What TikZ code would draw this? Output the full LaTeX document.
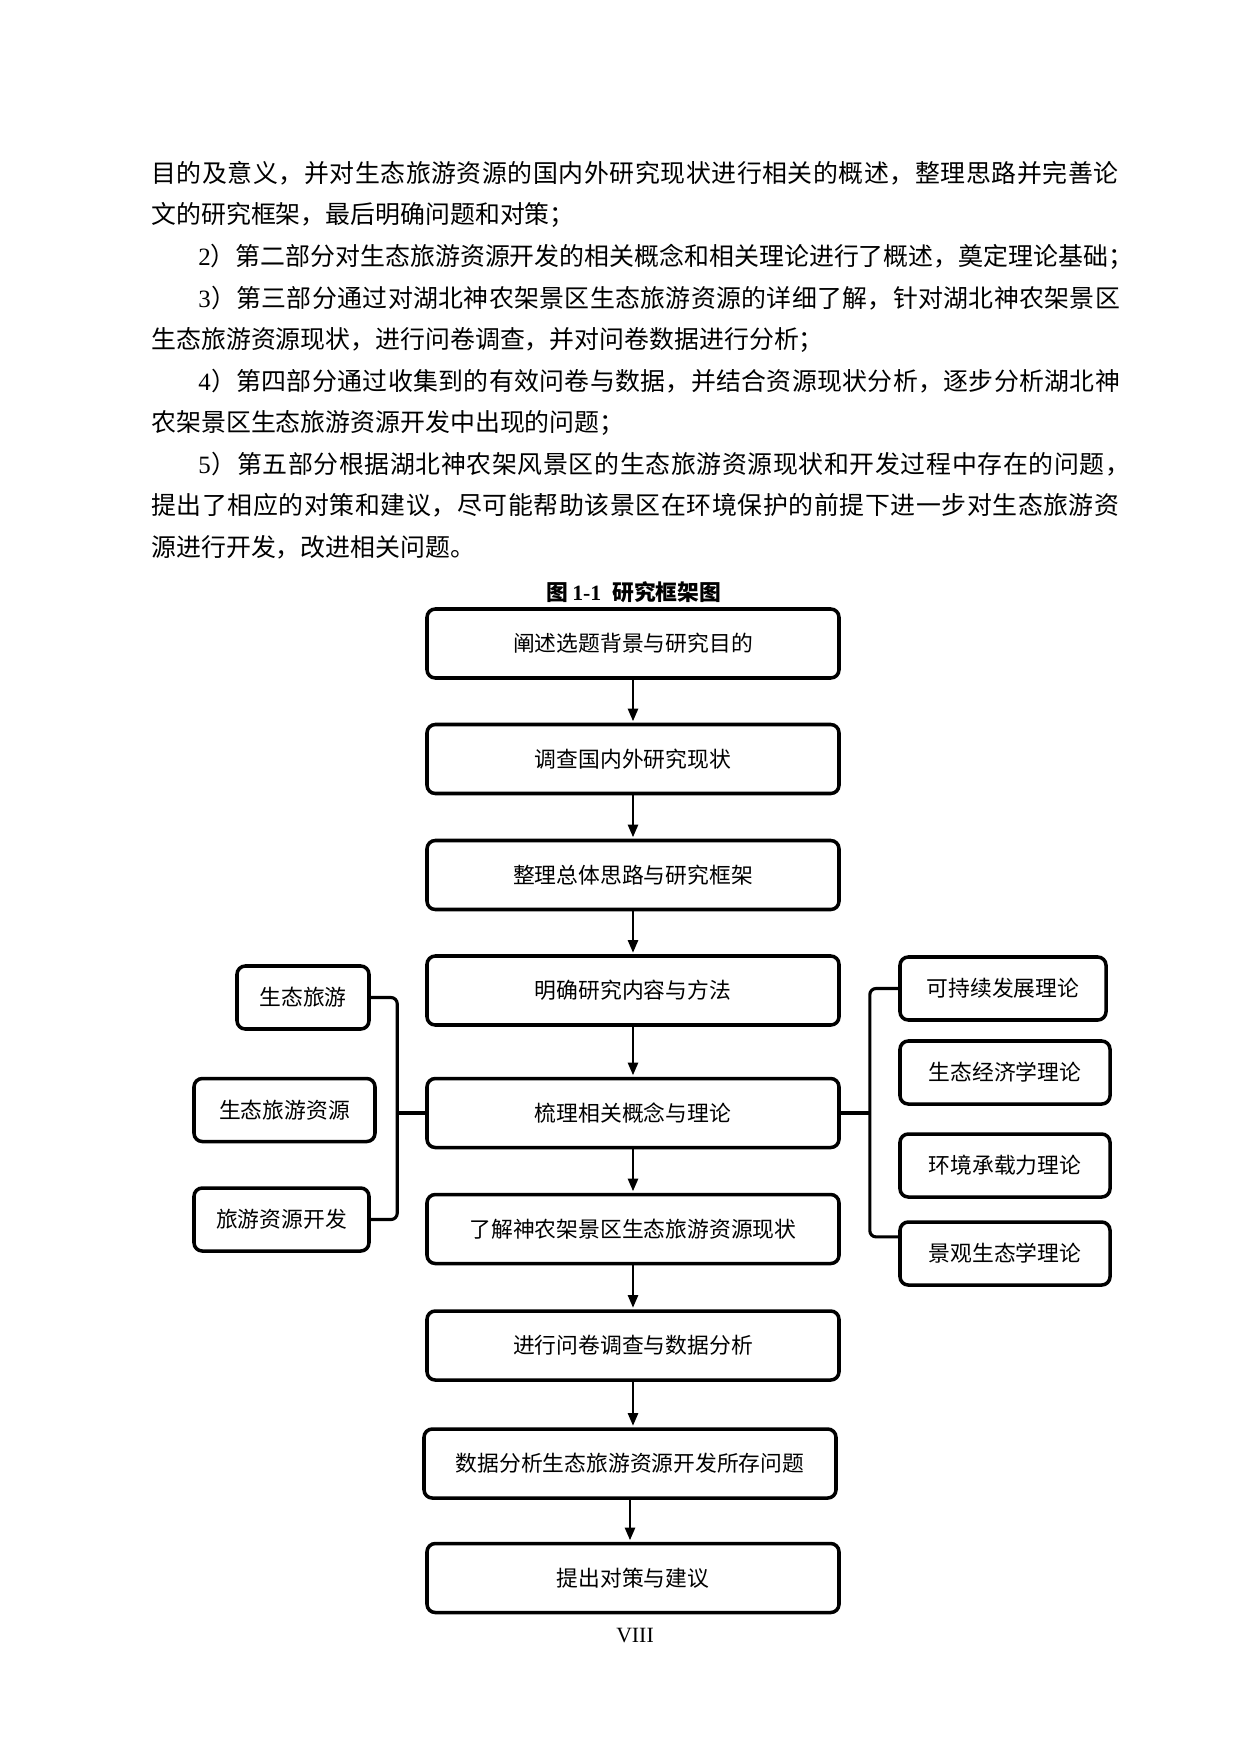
\documentclass[tikz,border=0pt]{standalone}
\usepackage{fontspec}
\setmainfont{Noto Sans CJK SC}
\newfontfamily\latin{Liberation Serif}
\usetikzlibrary{arrows.meta}

\def\px{0.16935mm}

% justified body line: glue between every character
\def\spreadend{\relax}
\def\spreadline#1#2{\hbox to #1{\spreadfirst#2\spreadend}}
\def\spreadfirst#1{\ifx#1\spreadend\else#1\expandafter\spreadnext\fi}
\def\spreadnext#1{\ifx#1\spreadend\else\hskip 0pt plus 1fil minus 1pt\relax#1\expandafter\spreadnext\fi}
\def\ltwo{{\latin 2}}
\def\lthree{{\latin 3}}
\def\lfour{{\latin 4}}
\def\lfive{{\latin 5}}

\tikzset{
   mainbox/.style={draw, line width=1.7pt, rounded corners=4pt,
      minimum width=412*\px, minimum height=69*\px, inner sep=0pt,
      font=\fontsize{10.5}{12}\selectfont},
   sidebox/.style={draw, line width=1.7pt, rounded corners=4pt,
      minimum height=63*\px, inner sep=0pt,
      font=\fontsize{10.5}{12}\selectfont},
   flow/.style={-{Triangle[length=6pt,width=5pt]}, line width=0.7pt, shorten >=0.8pt},
   brace/.style={line width=1.5pt, rounded corners=3pt},
   bodyline/.style={anchor=west, inner sep=0pt, font=\fontsize{12}{14}\selectfont}
}

\begin{document}
\begin{tikzpicture}[x=\px, y=-\px]

      \useasboundingbox (0,0) rectangle (1240,1754);

      % body text
      \node[bodyline] (line1) at (151,173.5) {\spreadline{163.76mm}{目的及意义，并对生态旅游资源的国内外研究现状进行相关的概述，整理思路并完善论}};
      \node[bodyline] (line2) at (151,215) {文的研究框架，最后明确问题和对策；};
      \node[bodyline] (line3) at (198,256.5) {\spreadline{158.3mm}{\ltwo）第二部分对生态旅游资源开发的相关概念和相关理论进行了概述，奠定理论基础；}};
      \node[bodyline] (line4) at (198,298) {\spreadline{156.1mm}{\lthree）第三部分通过对湖北神农架景区生态旅游资源的详细了解，针对湖北神农架景区}};
      \node[bodyline] (line5) at (151,339.5) {生态旅游资源现状，进行问卷调查，并对问卷数据进行分析；};
      \node[bodyline] (line6) at (198,381) {\spreadline{156.1mm}{\lfour）第四部分通过收集到的有效问卷与数据，并结合资源现状分析，逐步分析湖北神}};
      \node[bodyline] (line7) at (151,422.5) {农架景区生态旅游资源开发中出现的问题；};
      \node[bodyline] (line8) at (198,464) {\spreadline{157.8mm}{\lfive）第五部分根据湖北神农架风景区的生态旅游资源现状和开发过程中存在的问题，}};
      \node[bodyline] (line9) at (151,505.5) {\spreadline{163.93mm}{提出了相应的对策和建议，尽可能帮助该景区在环境保护的前提下进一步对生态旅游资}};
      \node[bodyline] (line10) at (151,547) {源进行开发，改进相关问题。};

      \node[font=\bfseries\fontsize{10.5}{12}\selectfont] (caption) at (634,592) {图\,{\latin\bfseries 1-1}\enspace 研究框架图};

      % main steps
      \node[mainbox] (aim) at (633,643.5) {阐述选题背景与研究目的};
      \node[mainbox] (review) at (633,759) {调查国内外研究现状};
      \node[mainbox] (frame) at (633,875) {整理总体思路与研究框架};
      \node[mainbox] (content) at (633,990.5) {明确研究内容与方法};
      \node[mainbox] (theory) at (633,1113) {梳理相关概念与理论};
      \node[mainbox] (status) at (633,1229) {了解神农架景区生态旅游资源现状};
      \node[mainbox] (survey) at (633,1345.5) {进行问卷调查与数据分析};
      \node[mainbox] (problem) at (630,1463.5) {数据分析生态旅游资源开发所存问题};
      \node[mainbox] (advice) at (633,1578) {提出对策与建议};

      \foreach \a/\b in {aim/review, review/frame, frame/content, content/theory,
            theory/status, status/survey, survey/problem, problem/advice}
         \draw[flow] (\a.south) -- (\a.south |- \b.north);

      % concepts
      \node[sidebox, minimum width=132*\px] (eco) at (303,997.5) {生态旅游};
      \node[sidebox, minimum width=181*\px] (ecores) at (284.5,1110) {生态旅游资源};
      \node[sidebox, minimum width=175*\px] (resdev) at (281.5,1219.5) {旅游资源开发};

      % theories
      \node[sidebox, minimum width=206*\px] (sustain) at (1003,988.5) {可持续发展理论};
      \node[sidebox, minimum width=210*\px] (ecoecon) at (1005,1072.5) {生态经济学理论};
      \node[sidebox, minimum width=210*\px] (capacity) at (1005,1165.5) {环境承载力理论};
      \node[sidebox, minimum width=210*\px] (landscape) at (1005,1253.5) {景观生态学理论};

      \coordinate (lj) at ([xshift=-13.5pt]theory.west);
      \draw[brace] (eco.east) -| (lj) |- (resdev.east);
      \draw[brace] (lj) -- (theory.west);

      \coordinate (rj) at ([xshift=14pt]theory.east);
      \draw[brace] (sustain.west) -| (rj) |- ([yshift=8pt]landscape.west);
      \draw[brace] (theory.east) -- (rj);

      \node[font=\latin\fontsize{10.5}{12}\selectfont] (pagenum) at (635,1636) {VIII};

\end{tikzpicture}
\end{document}
